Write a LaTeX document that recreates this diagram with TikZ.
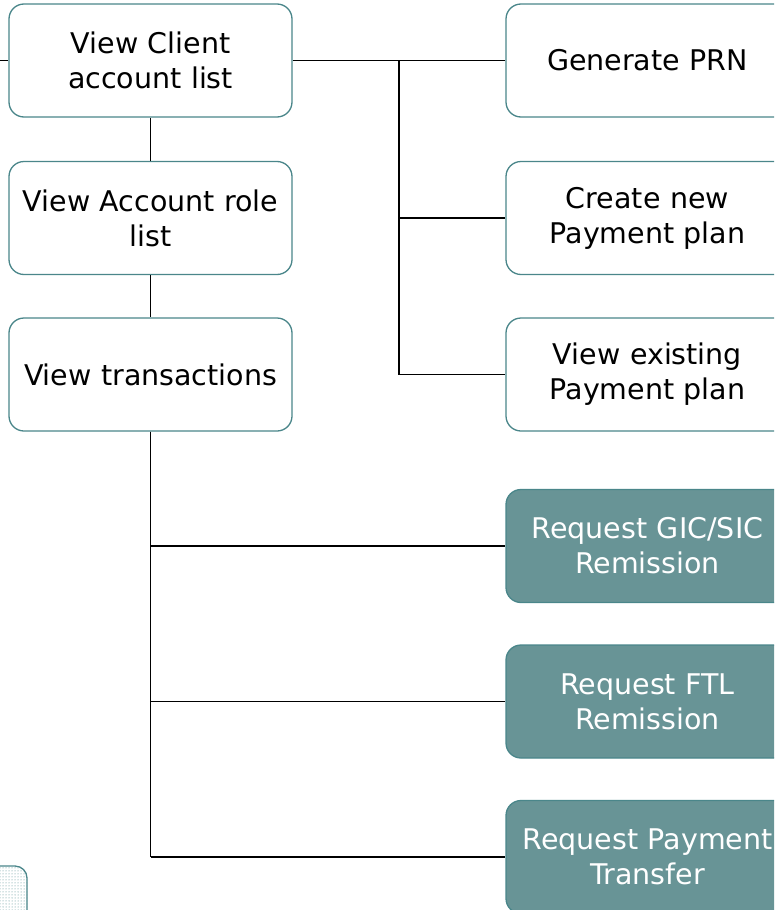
\documentclass[tikz,border=0pt]{standalone}
\usepackage{fontspec}
\setmainfont{DejaVu Sans}
\usetikzlibrary{patterns}
\definecolor{tealedge}{RGB}{74,134,138}
\definecolor{tealfill}{RGB}{104,148,150}
\tikzset{
  box/.style={draw=tealedge, line width=1.3pt, rounded corners=15pt,
    minimum width=283pt, minimum height=113pt, inner sep=2pt,
    align=center, text width=279pt,
    font=\fontsize{28.5}{35}\selectfont, text=black, fill=white},
  filledbox/.style={box, fill=tealfill, text=white},
  link/.style={draw=black, line width=1.6pt}
}
\begin{document}
\begin{tikzpicture}[x=1pt,y=-1pt]
\useasboundingbox (0,0) rectangle (774,910);
\clip (0,0) rectangle (774,910);
% left column
\node[box] (vcal) at (150.5,60.5) {View Client\\account list};
\node[box] (varl) at (150.5,218) {View Account role\\list};
\node[box] (vt) at (150.5,374.5) {View transactions};
% right column
\node[box] (prn) at (647.5,60.5) {Generate PRN};
\node[box] (cnp) at (647.5,218) {Create new\\Payment plan};
\node[box] (vep) at (647.5,374.5) {View existing\\Payment plan};
\node[filledbox] (gic) at (647.5,546) {Request GIC/SIC\\Remission};
\node[filledbox] (ftl) at (647.5,701.5) {Request FTL\\Remission};
\node[filledbox] (rpt) at (647.5,857) {Request Payment\\Transfer};
% partial box bottom-left
\draw[draw=tealedge, line width=1.3pt, rounded corners=12pt,
  pattern=dots, pattern color=tealedge] (-40,866) rectangle (27,960);
% connectors
\coordinate (lin) at (0,60.5);
\coordinate (j1) at (399,60.5);
\coordinate (j2) at (150.5,857);
\draw[link] (lin) -- (vcal.west);
\draw[link] (vcal.east) -- (prn.west);
\draw[link] (j1) |- (cnp.west);
\draw[link] (j1) |- (vep.west);
\draw[link] (vcal.south) -- (varl.north);
\draw[link] (varl.south) -- (vt.north);
\draw[link] (vt.south) -- (j2);
\draw[link] (vt.south) |- (gic.west);
\draw[link] (vt.south) |- (ftl.west);
\draw[link] (j2) -- (rpt.west);
\end{tikzpicture}
\end{document}
